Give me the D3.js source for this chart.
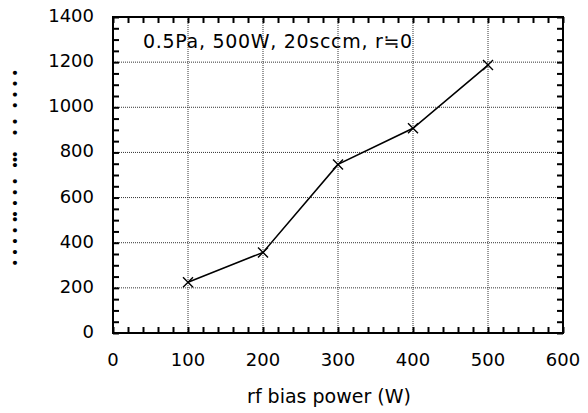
<!DOCTYPE html>
<html>
<head>
<meta charset="UTF-8"/>
<style>
  body { margin: 0; background: #fff; }
  text { font-family: "DejaVu Sans", sans-serif; fill: #000; }
</style>
</head>
<body>
<script src="https://cdn.jsdelivr.net/npm/d3@7"></script>
<script>
// data
var power = [100, 200, 300, 400, 500];
var values = [225, 357, 747, 907, 1187];
var xTicks = [0, 100, 200, 300, 400, 500, 600];
var yTicks = [0, 200, 400, 600, 800, 1000, 1200, 1400];
var titleText = "0.5Pa, 500W, 20sccm, r\u2252" + "0";
var xLabel = "rf bias power (W)";
// y label glyphs came out as dots in the original
var yLabel = "\u2022\u00A0\u2022\u00A0\u2022\u00A0\u2022\u00A0\u2022\u2022\u00A0\u2022\u00A0\u2022\u00A0\u2022\u00A0\u00A0\u2022\u2022\u2022\u00A0\u00A0\u00A0\u2022\u00A0\u2022\u00A0\u00A0\u2022\u00A0\u2022\u00A0\u2022\u00A0\u2022";

var W = 588, H = 413;
var mLeft = 113, mRight = 563, mTop = 17, mBottom = 333;

var svg = d3.select("body").append("svg")
    .attr("width", W)
    .attr("height", H);

var x = d3.scaleLinear().domain([0, 600]).range([mLeft, mRight]);
var y = d3.scaleLinear().domain([0, 1400]).range([mBottom, mTop]);

// dotted grid
svg.append("g").selectAll("line")
  .data(xTicks.slice(1, -1))
  .enter().append("line")
    .attr("x1", function(d){ return x(d); })
    .attr("x2", function(d){ return x(d); })
    .attr("y1", mTop).attr("y2", mBottom)
    .attr("stroke", "#333").attr("stroke-width", 1)
    .attr("stroke-dasharray", "1,1");

svg.append("g").selectAll("line")
  .data(yTicks.slice(1, -1))
  .enter().append("line")
    .attr("y1", function(d){ return y(d); })
    .attr("y2", function(d){ return y(d); })
    .attr("x1", mLeft).attr("x2", mRight)
    .attr("stroke", "#333").attr("stroke-width", 1)
    .attr("stroke-dasharray", "1,1");

// inward ticks on all sides
var tk = 6;
var xMinor = d3.range(0, 601, 20);
var yMinor = d3.range(0, 1401, 50);

var axB = d3.axisBottom(x).tickValues(xMinor).tickSize(-tk).tickFormat("");
var axT = d3.axisTop(x).tickValues(xMinor).tickSize(-tk).tickFormat("");
var axL = d3.axisLeft(y).tickValues(yMinor).tickSize(-tk).tickFormat("");
var axR = d3.axisRight(y).tickValues(yMinor).tickSize(-tk).tickFormat("");

function styleAxis(g){
  g.select(".domain").remove();
  g.selectAll(".tick line").attr("stroke", "#000").attr("stroke-width", 2);
}
svg.append("g").attr("transform", "translate(0," + mBottom + ")").call(axB).call(styleAxis);
svg.append("g").attr("transform", "translate(0," + mTop + ")").call(axT).call(styleAxis);
svg.append("g").attr("transform", "translate(" + mLeft + ",0)").call(axL).call(styleAxis);
svg.append("g").attr("transform", "translate(" + mRight + ",0)").call(axR).call(styleAxis);

// frame
svg.append("rect")
  .attr("x", mLeft).attr("y", mTop)
  .attr("width", mRight - mLeft).attr("height", mBottom - mTop)
  .attr("fill", "none").attr("stroke", "#000").attr("stroke-width", 2);

// tick labels
svg.append("g").selectAll("text")
  .data(xTicks)
  .enter().append("text")
    .attr("x", function(d){ return x(d); })
    .attr("y", 366)
    .attr("text-anchor", "middle")
    .attr("font-size", 18)
    .text(function(d){ return d; });

svg.append("g").selectAll("text")
  .data(yTicks)
  .enter().append("text")
    .attr("x", 94)
    .attr("y", function(d){ return y(d) + 5; })
    .attr("text-anchor", "end")
    .attr("font-size", 18)
    .text(function(d){ return d; });

// axis titles
svg.append("text")
  .attr("x", 329).attr("y", 403)
  .attr("text-anchor", "middle")
  .attr("font-size", 19)
  .text(xLabel);

svg.append("text")
  .attr("transform", "translate(20,267) rotate(-90)")
  .style("font-family", "'DejaVu Sans Mono', monospace")
  .attr("font-size", 14)
  .attr("letter-spacing", -3.0)
  .text(yLabel);

// annotation
svg.append("text")
  .attr("x", 143).attr("y", 48)
  .attr("font-size", 19)
  .attr("letter-spacing", 0.7)
  .text(titleText);

// data line
var line = d3.line()
  .x(function(d, i){ return x(power[i]); })
  .y(function(d){ return y(d); });

svg.append("path")
  .datum(values)
  .attr("d", line)
  .attr("fill", "none")
  .attr("stroke", "#000")
  .attr("stroke-width", 1.6);

// x markers
var m = 5;
svg.append("g").selectAll("path")
  .data(values)
  .enter().append("path")
    .attr("d", function(d, i){
      var cx = x(power[i]), cy = y(d);
      return "M" + (cx - m) + "," + (cy - m) + "L" + (cx + m) + "," + (cy + m) +
             "M" + (cx - m) + "," + (cy + m) + "L" + (cx + m) + "," + (cy - m);
    })
    .attr("stroke", "#000")
    .attr("stroke-width", 1.4)
    .attr("fill", "none");
</script>
</body>
</html>
